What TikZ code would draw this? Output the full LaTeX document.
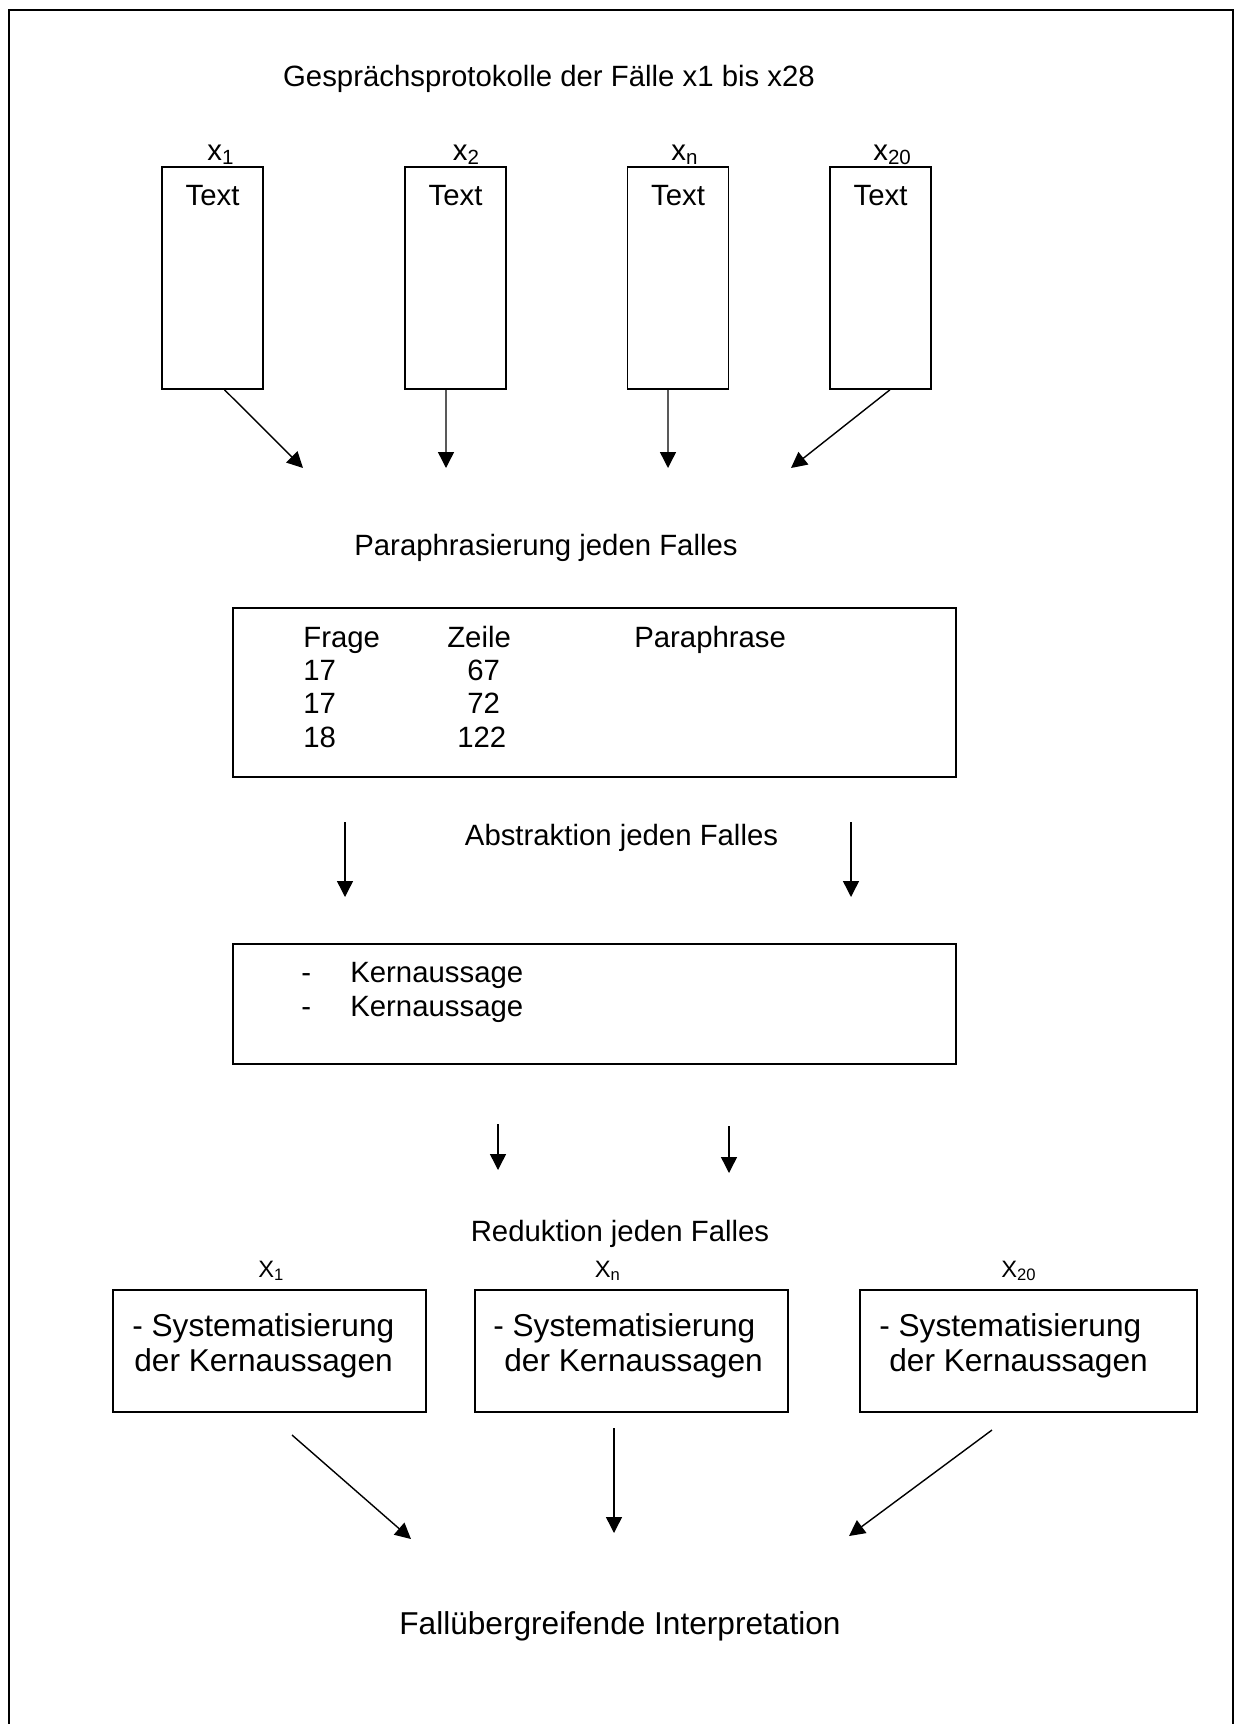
\documentclass[tikz,border=0pt]{standalone}
\usepackage{fontspec}
\setmainfont{Liberation Sans}
\usetikzlibrary{arrows.meta}
\tikzset{
  box/.style={draw, line width=0.9pt, inner sep=0pt},
  lbl/.style={anchor=base, inner sep=0pt, font=\fontsize{16.7}{19}\selectfont},
  big/.style={anchor=base west, inner sep=0pt, font=\fontsize{18}{20}\selectfont},
  caselbl/.style={anchor=base west, inner sep=0pt, font=\fontsize{13.5}{15}\selectfont},
  arr/.style={-{Triangle[length=9pt,width=9pt]}, line width=0.8pt}
}
\begin{document}
\begin{tikzpicture}[x=0.02cm, y=-0.02cm]
    \useasboundingbox (0,0) rectangle (1237,1724);
    \draw[line width=1.1pt] (9,1724) -- (9,10) -- (1233,10) -- (1233,1724);
    \node[lbl] (title) at (549,86) {Gesprächsprotokolle der Fälle x1 bis x28};
    \node[box, minimum width=2.02cm, minimum height=4.44cm] (t1) at (212.5,278) {};
    \node[box, minimum width=2.02cm, minimum height=4.44cm] (t2) at (455.5,278) {};
    \node[box, minimum width=2.02cm, minimum height=4.44cm] (t3) at (678,278) {};
    \node[box, minimum width=2.02cm, minimum height=4.44cm] (t4) at (880.5,278) {};
    \node[lbl, anchor=base west] (x1) at (207,160) {x\textsubscript{1}}; \node[lbl, anchor=base west] (x2) at (452.5,160) {x\textsubscript{2}};
    \node[lbl, anchor=base west] (x3) at (671,160) {x\textsubscript{n}}; \node[lbl, anchor=base west] (x4) at (873,160) {x\textsubscript{20}};
    \node[lbl] (s1) at (212.5,205) {Text}; \node[lbl] (s2) at (455.5,205) {Text};
    \node[lbl] (s3) at (678,205) {Text}; \node[lbl] (s4) at (880.5,205) {Text};
    \coordinate (p1) at (303,468); \coordinate (p2) at (446,468); \coordinate (p3) at (668,468); \coordinate (p4) at (791,468);
    \draw[arr] ([xshift=0.24cm]t1.south) -- (p1); \draw[arr] ([xshift=-0.19cm]t2.south) -- (p2);
    \draw[arr] ([xshift=-0.2cm]t3.south) -- (p3); \draw[arr] ([xshift=0.19cm]t4.south) -- (p4);
    \node[lbl] (para) at (546,555) {Paraphrasierung jeden Falles};
    \node[box, minimum width=14.46cm, minimum height=3.38cm] (ptab) at (594.5,692.5) {};
    \node[lbl, anchor=base west] (rows) at (303,647) {\begin{tabular}[t]{@{}p{2.88cm}@{}p{3.74cm}@{}l@{}}
      Frage & Zeile & Paraphrase\\
      17 & \hspace{0.4cm}67 & \\
      17 & \hspace{0.4cm}72 & \\
      18 & \hspace{0.2cm}122 &
    \end{tabular}};
    \node[lbl] (abs) at (621.5,845) {Abstraktion jeden Falles};
    \coordinate (a1) at (345,822); \coordinate (a2) at (345,897); \coordinate (a3) at (851,822); \coordinate (a4) at (851,897);
    \draw[arr] (a1) -- (a2); \draw[arr] (a3) -- (a4);
    \node[box, minimum width=14.46cm, minimum height=2.4cm] (kern) at (594.5,1004) {};
    \node[lbl, anchor=base west] (kl) at (301,982) {\begin{tabular}[t]{@{}p{0.98cm}@{}l@{}}
      - & Kernaussage\\[0.9pt]
      - & Kernaussage
    \end{tabular}};
    \coordinate (r1) at (498,1124); \coordinate (r2) at (498,1170); \coordinate (r3) at (729,1126); \coordinate (r4) at (729,1173);
    \draw[arr] (r1) -- (r2); \draw[arr] (r3) -- (r4);
    \node[lbl] (red) at (620,1241) {Reduktion jeden Falles};
    \node[caselbl] (X1) at (258,1277) {X\textsubscript{1}}; \node[caselbl] (Xn) at (594.5,1277) {X\textsubscript{n}};
    \node[caselbl] (X20) at (1001,1277) {X\textsubscript{20}};
    \node[box, minimum width=6.26cm, minimum height=2.44cm] (k1) at (269.5,1351) {};
    \node[box, minimum width=6.26cm, minimum height=2.44cm] (k2) at (631.5,1351) {};
    \node[box, minimum width=6.74cm, minimum height=2.44cm] (k3) at (1028.5,1351) {};
    \node[big] (k1a) at (132,1336) {- Systematisierung}; \node[big] (k1b) at (134,1371) {der Kernaussagen};
    \node[big] (k2a) at (493,1336) {- Systematisierung}; \node[big] (k2b) at (504,1371) {der Kernaussagen};
    \node[big] (k3a) at (879,1336) {- Systematisierung}; \node[big] (k3b) at (889,1371) {der Kernaussagen};
    \coordinate (f1) at (292,1435); \coordinate (f2) at (411,1539); \coordinate (f3) at (614,1428);
    \coordinate (f4) at (614,1533); \coordinate (f5) at (992,1430); \coordinate (f6) at (849,1536);
    \draw[arr] (f1) -- (f2); \draw[arr] (f3) -- (f4); \draw[arr] (f5) -- (f6);
    \node[big, anchor=base] (fall) at (620,1634) {Fallübergreifende Interpretation};
  \end{tikzpicture}
\end{document}
